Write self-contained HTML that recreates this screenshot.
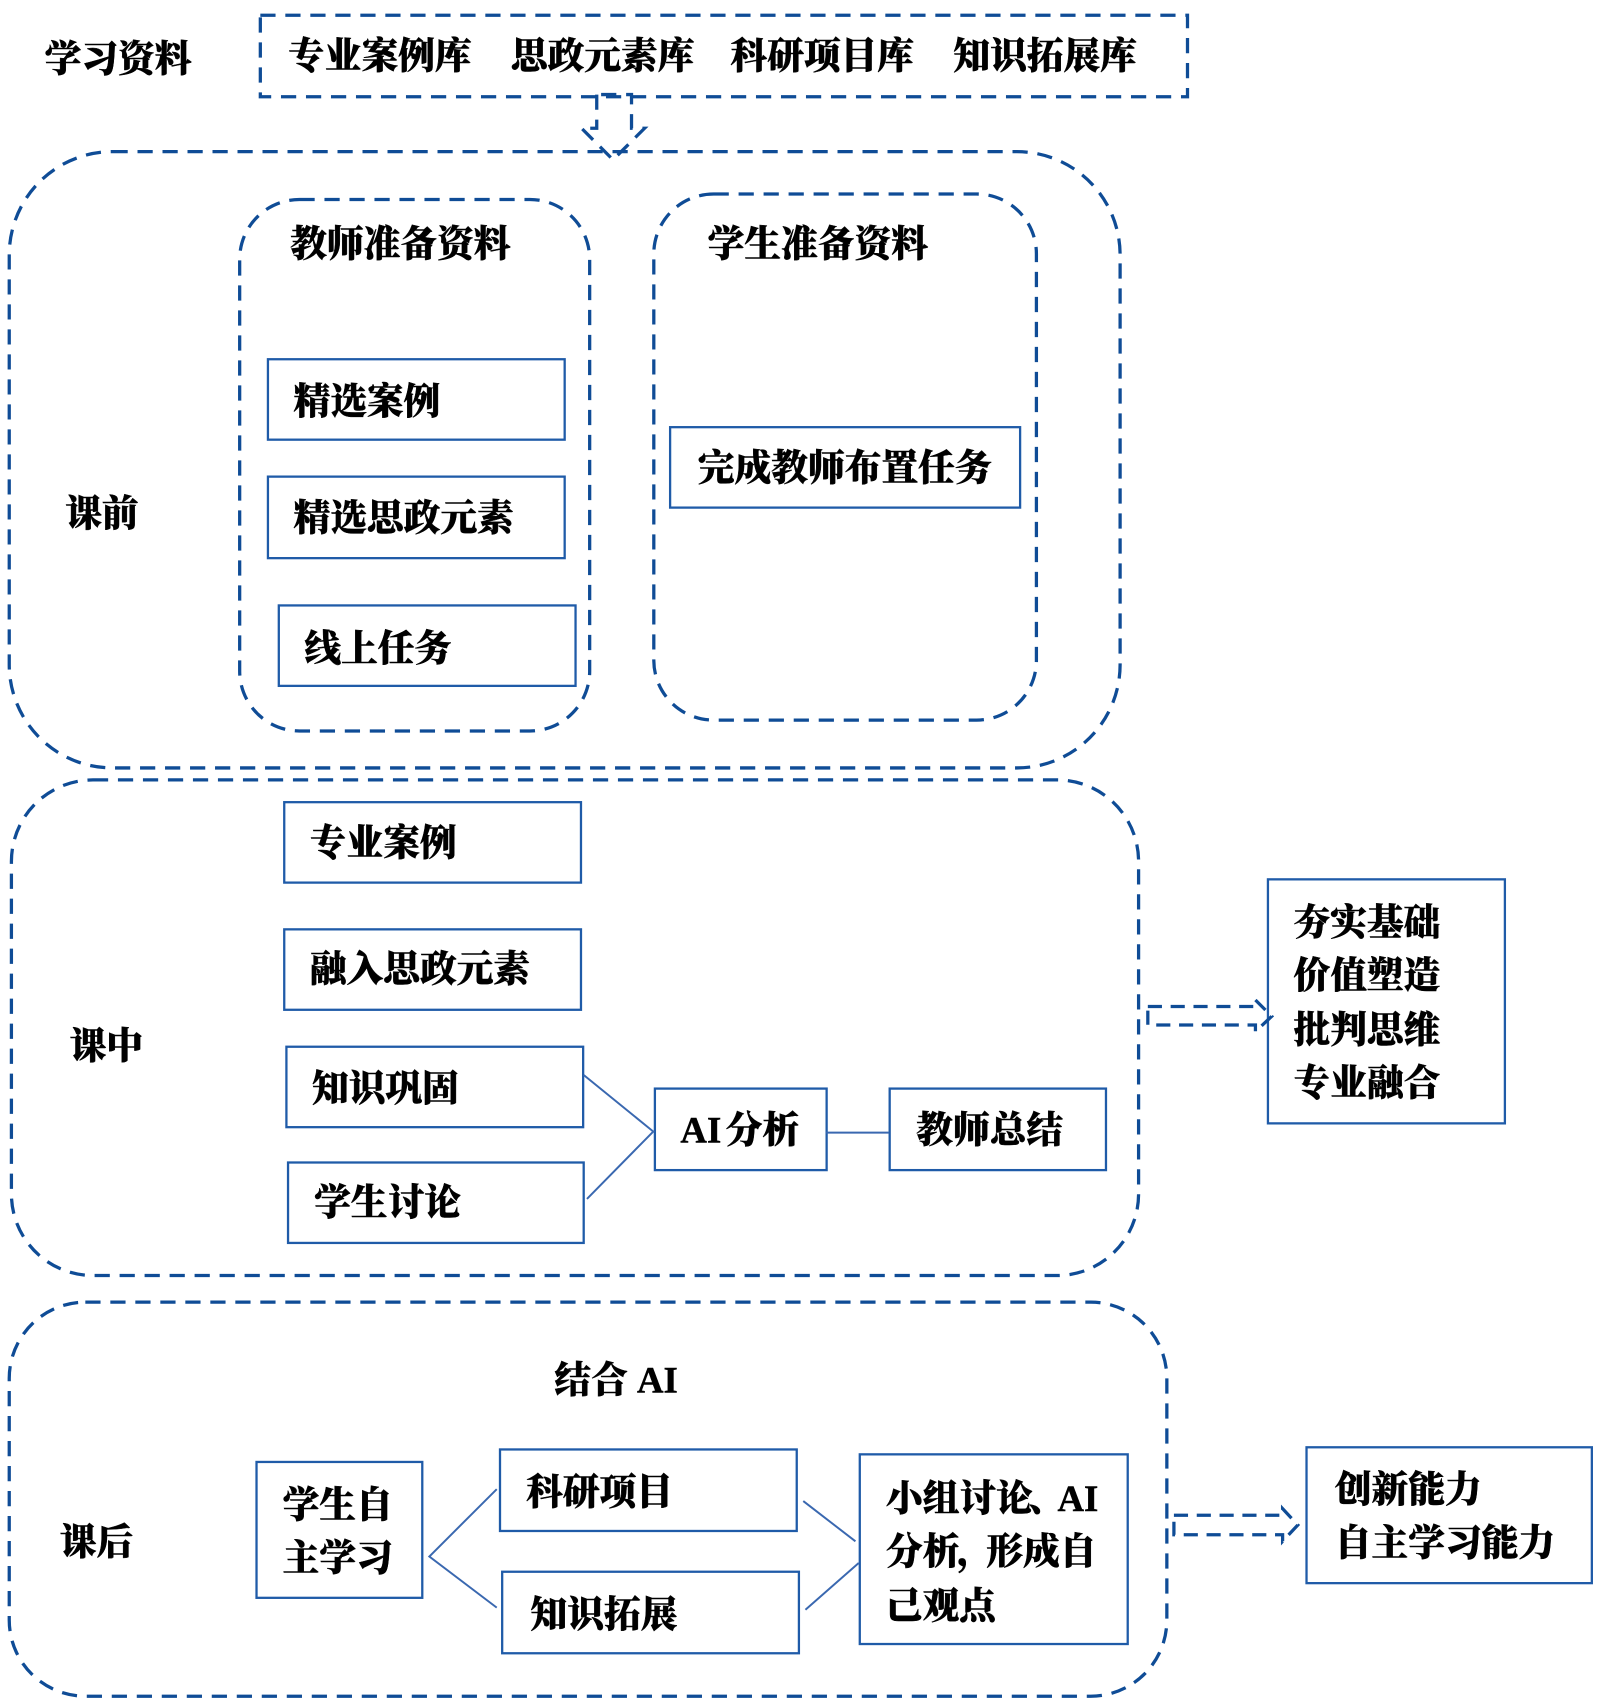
<!DOCTYPE html>
<html><head><meta charset="utf-8"><style>
html,body{margin:0;padding:0;background:#fff}
svg{display:block}
text{font-family:"Liberation Serif","Noto Serif CJK SC",serif;font-weight:900;font-size:33.8px;fill:#000;stroke:#000;stroke-width:.4px}
.d{fill:none;stroke:#0f4c96;stroke-width:3;stroke-dasharray:14 9}
.t{fill:none;stroke:#0f4c96;stroke-width:3;stroke-dasharray:14 9}
.b{fill:none;stroke:#1f5ba8;stroke-width:2.1}
.l{fill:none;stroke:#3a68b0;stroke-width:1.8}
</style></head><body>
<svg width="1600" height="1705" viewBox="0 0 1472 1568.6" xmlns="http://www.w3.org/2000/svg">
<rect class="d" x="239.5" y="14" width="853" height="75"/>
<path class="t" d="M549 87V118H535L564 147L593 118H581V87Z"/>
<rect class="t" x="8.5" y="139.500" width="1022" height="567" rx="95"/>
<rect class="d" x="220.500" y="183.500" width="322" height="489" rx="55"/>
<rect class="d" x="601.500" y="178.500" width="352" height="484" rx="55"/>
<rect class="b" x="246.500" y="330.500" width="273" height="74"/>
<rect class="b" x="246.500" y="438.500" width="273" height="75"/>
<rect class="b" x="256.500" y="557" width="273" height="74"/>
<rect class="b" x="616.500" y="393" width="322" height="74"/>
<rect class="d" x="10.500" y="717.500" width="1037" height="456" rx="75"/>
<rect class="b" x="261.500" y="738" width="273" height="74"/>
<rect class="b" x="261.500" y="855" width="273" height="74"/>
<rect class="b" x="263.500" y="963" width="273" height="74"/>
<rect class="b" x="265" y="1069.500" width="272" height="74"/>
<rect class="b" x="602.500" y="1001.500" width="158" height="75"/>
<rect class="b" x="818.500" y="1001.500" width="199" height="75"/>
<path class="l" d="M537 989L601 1041L540 1103M760 1042H818"/>
<rect class="b" x="1166.500" y="809" width="218" height="224.500"/>
<path class="t" style="stroke-dasharray:13 8" d="M1056 926H1155V920L1170 935L1155 949V943H1056Z"/>
<rect class="d" x="8.500" y="1198" width="1065" height="362.500" rx="70"/>
<rect class="b" x="236" y="1345" width="152.500" height="125"/>
<rect class="b" x="460" y="1333.500" width="273" height="75"/>
<rect class="b" x="462" y="1446" width="273" height="75"/>
<rect class="b" x="791" y="1338" width="246.500" height="174.500"/>
<rect class="b" x="1202" y="1331.500" width="262.500" height="125"/>
<path class="l" d="M457 1370L395 1432L457 1479M739 1381L787 1418M741 1481L790 1438"/>
<path class="t" style="stroke-dasharray:13 8" d="M1080 1394H1180V1388L1194 1403L1180 1418V1412H1080Z"/>

<text x="41" y="66">学习资料</text>
<text x="265" y="63">专业案例库</text>
<text x="470" y="63">思政元素库</text>
<text x="672" y="63">科研项目库</text>
<text x="877" y="63">知识拓展库</text>
<text x="267" y="236">教师准备资料</text>
<text x="651" y="236">学生准备资料</text>
<text x="270" y="381">精选案例</text>
<text x="270" y="488">精选思政元素</text>
<text x="280" y="608">线上任务</text>
<text x="642" y="442">完成教师布置任务</text>
<text x="60" y="484">课前</text>
<text x="64" y="974">课中</text>
<text x="55" y="1430">课后</text>
<text x="285" y="787">专业案例</text>
<text x="285" y="903">融入思政元素</text>
<text x="287" y="1013">知识巩固</text>
<text x="289" y="1118">学生讨论</text>
<text x="626" y="1051">AI<tspan dx="4">分析</tspan></text>
<text x="843" y="1051">教师总结</text>
<text x="1190" y="860">夯实基础</text>
<text x="1190" y="909">价值塑造</text>
<text x="1190" y="959">批判思维</text>
<text x="1190" y="1008">专业融合</text>
<text x="510" y="1281">结合 AI</text>
<text x="260" y="1396">学生自</text>
<text x="260" y="1445">主学习</text>
<text x="484" y="1384">科研项目</text>
<text x="488" y="1497">知识拓展</text>
<text x="815" y="1390">小组讨论<tspan dx="-4">、</tspan><tspan dx="-7">AI</tspan></text>
<text x="815" y="1439">分析<tspan dx="-2">，</tspan><tspan dx="-7">形成自</tspan></text>
<text x="815" y="1489">己观点</text>
<text x="1228" y="1382">创新能力</text>
<text x="1228" y="1431">自主学习能力</text>
</svg>
</body></html>
